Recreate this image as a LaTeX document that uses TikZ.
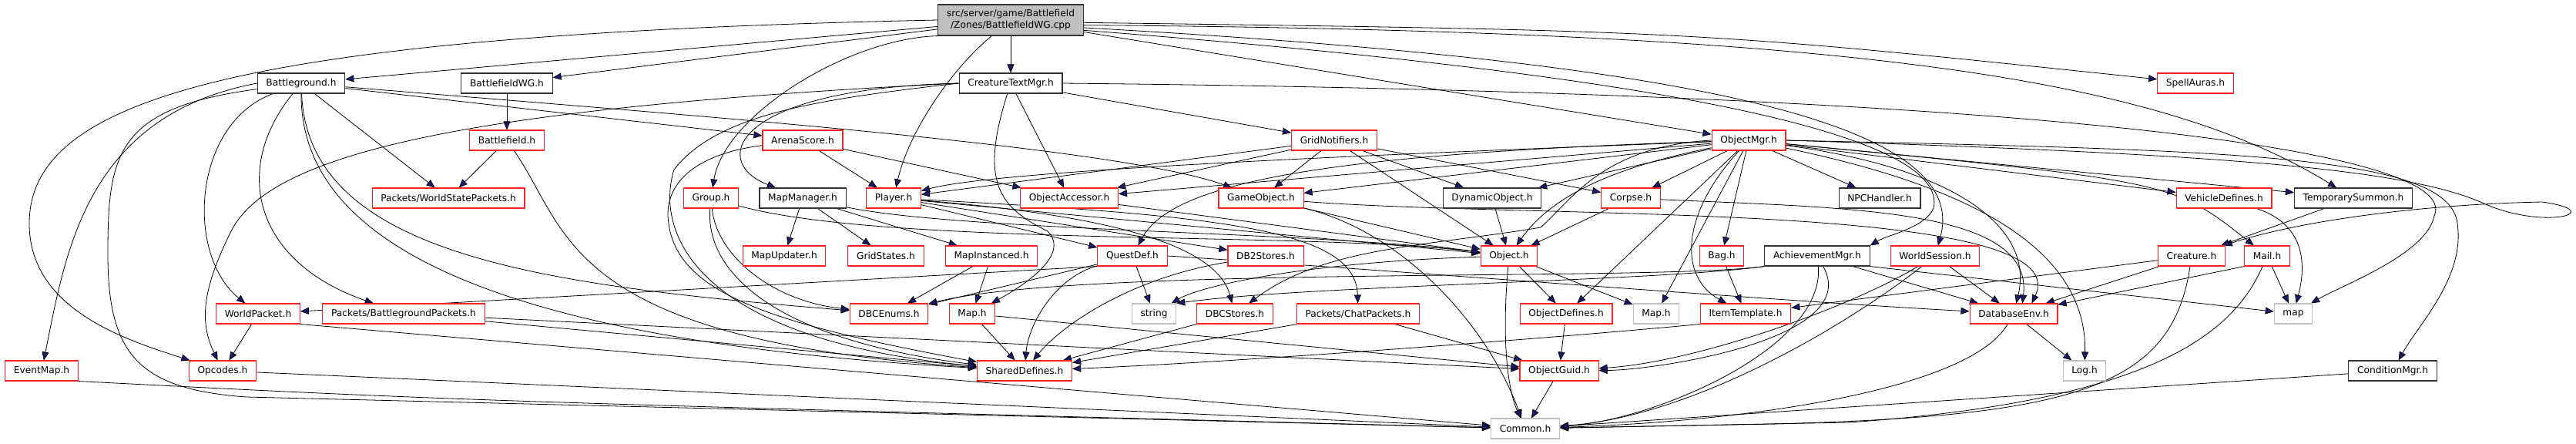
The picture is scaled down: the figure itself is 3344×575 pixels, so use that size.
\documentclass[tikz,border=0pt]{standalone}
\usepackage{fontspec}
\setmainfont{DejaVu Sans}
\usetikzlibrary{arrows.meta}
\definecolor{dgedge}{HTML}{191970}
\definecolor{dgred}{HTML}{FF2020}
\definecolor{dggray}{HTML}{BFBFBF}
\pgfdeclarelayer{edges}
\pgfsetlayers{edges,main}
\begin{document}
\begin{tikzpicture}[x=0.5pt, y=-0.5pt, ->, >={Triangle[length=5.5pt,width=4.5pt]}, draw=dgedge, line width=0.6pt,
    every node/.style={shape=rectangle, draw, fill=white, inner xsep=5.6pt, inner ysep=0pt, minimum height=13pt, line width=0.55pt, font=\fontsize{6.1}{7.4}\selectfont},
    docbox/.style={draw=black!80}, truncbox/.style={draw=dgred}, sysbox/.style={draw=dggray},
    rootbox/.style={draw=black!80, fill=dggray, align=center, minimum height=20pt}]
    \path[use as bounding box] (0,0) rectangle (3344,575);

    \node[rootbox] (root) at (1312,26) {src/server/game/Battlefield\\/Zones/BattlefieldWG.cpp};
    \node[docbox] (bg) at (391,108) {Battleground.h};
    \node[docbox] (bwg) at (658,108) {BattlefieldWG.h};
    \node[docbox] (ctm) at (1312,108) {CreatureTextMgr.h};
    \node[truncbox] (sa) at (2850,108) {SpellAuras.h};
    \node[truncbox] (bf) at (658,182) {Battlefield.h};
    \node[truncbox] (as) at (1042,182) {ArenaScore.h};
    \node[truncbox] (gn) at (1732,182) {GridNotifiers.h};
    \node[truncbox] (om) at (2270,182) {ObjectMgr.h};
    \node[truncbox] (wsp) at (582,257) {Packets/WorldStatePackets.h};
    \node[truncbox] (grp) at (923,257) {Group.h};
    \node[docbox] (mm) at (1042,257) {MapManager.h};
    \node[truncbox] (pl) at (1160,257) {Player.h};
    \node[truncbox] (oa) at (1388,257) {ObjectAccessor.h};
    \node[truncbox] (go) at (1637,257) {GameObject.h};
    \node[docbox] (dyn) at (1937,257) {DynamicObject.h};
    \node[truncbox] (crp) at (2117,257) {Corpse.h};
    \node[docbox] (npc) at (2440,257) {NPCHandler.h};
    \node[truncbox] (veh) at (2887,257) {VehicleDefines.h};
    \node[docbox] (ts) at (3055,257) {TemporarySummon.h};
    \node[truncbox] (mu) at (1018,332) {MapUpdater.h};
    \node[truncbox] (gs) at (1150,332) {GridStates.h};
    \node[truncbox] (mi) at (1287,332) {MapInstanced.h};
    \node[truncbox] (qd) at (1470,332) {QuestDef.h};
    \node[truncbox] (db2) at (1643,332) {DB2Stores.h};
    \node[truncbox] (obj) at (1959,332) {Object.h};
    \node[truncbox] (bag) at (2235,332) {Bag.h};
    \node[docbox] (ach) at (2359,332) {AchievementMgr.h};
    \node[truncbox] (ws) at (2512,332) {WorldSession.h};
    \node[truncbox] (cre) at (2845,332) {Creature.h};
    \node[truncbox] (mail) at (2943,332) {Mail.h};
    \node[truncbox] (wp) at (335,407) {WorldPacket.h};
    \node[truncbox] (bgp) at (524,407) {Packets/BattlegroundPackets.h};
    \node[truncbox] (dbce) at (1154,407) {DBCEnums.h};
    \node[truncbox] (mapr) at (1262,407) {Map.h};
    \node[sysbox] (str) at (1498,407) {string};
    \node[truncbox] (dbc) at (1603,407) {DBCStores.h};
    \node[truncbox] (chat) at (1763,407) {Packets/ChatPackets.h};
    \node[truncbox] (od) at (2033,407) {ObjectDefines.h};
    \node[sysbox] (mapg) at (2150,407) {Map.h};
    \node[truncbox] (it) at (2266,407) {ItemTemplate.h};
    \node[truncbox] (dbe) at (2614,407) {DatabaseEnv.h};
    \node[sysbox] (stdmap) at (2977,407) {map};
    \node[truncbox] (em) at (54,481) {EventMap.h};
    \node[truncbox] (opc) at (289,481) {Opcodes.h};
    \node[truncbox] (sd) at (1330,481) {SharedDefines.h};
    \node[truncbox] (og) at (2024,481) {ObjectGuid.h};
    \node[sysbox] (log) at (2706,481) {Log.h};
    \node[docbox] (cond) at (3106,481) {ConditionMgr.h};
    \node[sysbox] (com) at (1980,556) {Common.h};

    \begin{pgfonlayer}{edges}
    % BattlefieldWG.cpp
    \path (root) edge (bg) edge (bwg) edge (ctm) edge (om);
    \draw (root.-2) .. controls (2200,40) .. (sa);
    \draw (root.west) .. controls (300,45) and (38,130) .. (38,290) .. controls (38,400) and (160,440) .. (opc);
    \draw (root) .. controls (1235,90) and (1180,170) .. (pl);
    \draw (root.south west) .. controls (1100,50) and (940,150) .. (grp);
    \draw (root.-6) .. controls (2200,80) and (2560,160) .. (ws);
    \draw (root.-8) .. controls (2200,100) and (2530,180) .. (2510,270) .. controls (2500,295) and (2450,305) .. (ach.north east);
    \draw (root.-4) .. controls (2400,40) and (2800,100) .. (ts);

    % Battlefield
    \path (bwg) edge (bf);
    \path (bf) edge (wsp);
    \draw (bf) .. controls (740,300) and (730,440) .. (sd);

    % Battleground.h
    \path (bg) edge (wsp) edge (as);
    \draw (bg.west) .. controls (110,150) and (85,330) .. (em);
    \draw (bg) .. controls (150,140) and (140,200) .. (140,330) .. controls (140,460) and (180,505) .. (320,515) -- (com);
    \draw (bg) .. controls (250,160) and (240,330) .. (wp);
    \draw (bg) .. controls (300,220) and (330,340) .. (bgp);
    \draw (bg) .. controls (390,300) and (600,440) .. (sd);
    \draw (bg) .. controls (400,330) and (700,370) .. (dbce);
    \draw (bg) .. controls (900,150) and (1450,190) .. (go);

    % CreatureTextMgr.h
    \path (ctm) edge (oa) edge (gn);
    \draw (ctm.west) .. controls (600,140) and (350,200) .. (300,300) .. controls (260,380) and (260,420) .. (opc);
    \draw (ctm.west) .. controls (950,115) and (920,210) .. (mm);
    \draw (ctm.west) .. controls (1050,130) and (930,150) .. (875,220) .. controls (850,300) and (900,440) .. (sd);
    \draw (ctm) .. controls (1270,240) and (1300,270) .. (1360,300) .. controls (1390,330) and (1330,370) .. (mapr);
    \draw (ctm.east) .. controls (2600,120) and (3200,190) .. (3160,280) .. controls (3150,330) and (3040,370) .. (stdmap);

    % ArenaScore.h, Group.h, MapManager.h
    \path (as) edge (pl) edge (oa);
    \draw (as) .. controls (900,200) and (860,240) .. (868,290) .. controls (880,380) and (1000,420) .. (sd);
    \draw (grp) .. controls (915,350) and (1000,440) .. (sd);
    \draw (grp) .. controls (930,330) and (1000,390) .. (dbce);
    \draw (grp) .. controls (1150,320) and (1700,300) .. (obj);
    \path (mm) edge (mu) edge (gs) edge (mi);
    \draw (mm) .. controls (1250,300) and (1700,300) .. (obj);

    % GridNotifiers.h
    \path (gn) edge (pl) edge (go) edge (dyn) edge (crp) edge (oa) edge (obj);

    % ObjectMgr.h
    \path (om) edge (oa) edge (go) edge (dyn) edge (crp) edge (od) edge (mapg) edge (bag) edge (npc) edge (veh) edge (ts);
    \draw (om) .. controls (1800,200) and (1300,220) .. (pl);
    \draw (om) .. controls (1700,200) and (1520,240) .. (qd);
    \draw (om) .. controls (2080,220) and (2010,260) .. (obj);
    \draw (om.west) .. controls (2080,190) and (2040,260) .. (2000,295) .. controls (1850,320) and (1720,320) .. (dbc);
    \draw (om) .. controls (2180,280) and (2180,360) .. (it);
    \draw (om) .. controls (2550,220) and (2640,300) .. (dbe);
    \draw (om) .. controls (2500,230) and (2710,300) .. (log);
    \draw (om) .. controls (2820,235) .. (mail);
    \draw (om.east) .. controls (2900,200) and (3120,220) .. (3220,262) .. controls (3300,300) and (3390,275) .. (3300,262) .. controls (3150,265) and (2990,285) .. (cre);
    \draw (om.east) .. controls (2900,195) and (3180,200) .. (3190,290) .. controls (3200,360) and (3140,420) .. (cond);

    % Player.h and the object headers
    \path (pl) edge (qd) edge (db2) edge (obj);
    \draw (pl) .. controls (1450,280) and (1580,320) .. (dbc);
    \draw (pl) .. controls (1600,280) and (1760,300) .. (chat);
    \path (oa) edge (obj);
    \path (go) edge (obj);
    \draw (go) .. controls (1820,300) and (1930,420) .. (com);
    \draw (go) .. controls (2000,285) and (2700,260) .. (dbe.30);
    \path (dyn) edge (obj);
    \path (crp) edge (obj);
    \draw (crp) .. controls (2400,270) and (2640,270) .. (dbe.50);
    \path (ts) edge (cre);
    \draw (veh) .. controls (2990,290) and (2995,340) .. (stdmap);

    % fourth row
    \path (mi) edge (dbce) edge (mapr);
    \path (qd) edge (dbce) edge (str);
    \path (qd.south west) edge (wp);
    \draw (qd) .. controls (1370,360) and (1335,420) .. (sd);
    \draw (qd.east) .. controls (1800,350) and (2300,390) .. (dbe);
    \draw (db2) .. controls (1470,360) and (1380,420) .. (sd);
    \path (obj) edge (od) edge (mapg);
    \draw (obj) .. controls (1700,340) and (1560,370) .. (str);
    \draw (obj) .. controls (1950,430) and (1955,500) .. (com);
    \path (bag) edge (it);
    \path (ach) edge (dbe);
    \path (ach.south east) edge (stdmap);
    \draw (ach.south west) .. controls (2150,365) and (1400,345) .. (dbce);
    \draw (ach.south west) .. controls (2150,365) and (1700,370) .. (str.north east);
    \draw (ach) .. controls (2370,450) and (2150,545) .. (com);
    \draw (ach) .. controls (2420,440) and (2150,480) .. (og);
    \path (ws) edge (dbe);
    \draw (ws) .. controls (2400,400) and (2200,470) .. (og);
    \draw (ws) .. controls (2400,420) and (2200,540) .. (com);
    \path (cre) edge (it) edge (dbe);
    \draw (cre) .. controls (2820,500) and (2700,540) .. (2300,550) -- (com);
    \path (mail) edge (stdmap);
    \path (mail.south west) edge (dbe);
    \draw (mail) .. controls (2900,430) and (2800,520) .. (2400,548) -- (com);

    % fifth row and below
    \path (wp) edge (opc);
    \path (wp.south east) edge (com);
    \path (bgp) edge (og) edge (sd);
    \path (dbc) edge (sd);
    \path (chat) edge (sd) edge (og);
    \path (mapr) edge (sd) edge (og);
    \path (od) edge (og);
    \draw (it.south west) .. controls (2000,440) and (1600,470) .. (sd);
    \path (dbe) edge (log);
    \draw (dbe) .. controls (2560,500) and (2300,545) .. (com);
    \draw (em.south east) .. controls (600,520) .. (com);
    \path (opc) edge (com);
    \path (og) edge (com);
    \path (cond) edge (com);
    \end{pgfonlayer}
\end{tikzpicture}
\end{document}
